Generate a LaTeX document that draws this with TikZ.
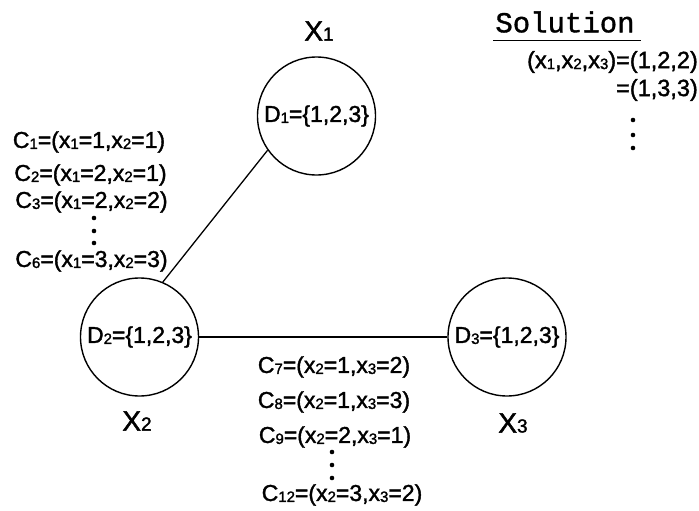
\documentclass[tikz,border=0pt]{standalone}
\usepackage{fontspec}
\setmainfont{Liberation Sans}[FakeBold=1.6]
\newfontfamily\solfont{Liberation Mono}[FakeBold=1.2]
\usetikzlibrary{calc}
\newcommand{\lo}[1]{\raisebox{-1pt}{\fontsize{15}{15}\selectfont#1}}
\newcommand{\vsub}[1]{{\fontsize{19}{19}\selectfont#1}}
\tikzset{var/.style={circle, draw, line width=1.4pt, minimum size=118pt, inner sep=0pt, font=\fontsize{23}{24}\selectfont}, edge/.style={line width=1.3pt}, cons/.style={inner sep=0pt, font=\fontsize{23}{24}\selectfont}, vlab/.style={inner sep=0pt, font=\fontsize{28}{30}\selectfont}, soltxt/.style={inner sep=0pt, anchor=east, font=\fontsize{23.5}{25}\selectfont}}

\begin{document}
\begin{tikzpicture}[x=1pt,y=-1pt]
\useasboundingbox (0,0) rectangle (699,511);
% variables
\node[var] (x1) at (316.5,116) {D\lo{1}=\{1,2,3\}};
\node[var] (x2) at (139.5,337) {D\lo{2}=\{1,2,3\}};
\node[var] (x3) at (507,337) {D\lo{3}=\{1,2,3\}};
\node[vlab] (n1) at (319,31) {X\vsub{1}};
\node[vlab] (n2) at (137,421) {X\vsub{2}};
\node[vlab] (n3) at (513,423) {X\vsub{3}};
\draw[edge] (x1.215) -- (x2.67);
\draw[edge] (x2) -- (x3);
% constraints X1-X2
\node[cons] (c1) at (89,142) {C\lo{1}=(x\lo{1}=1,x\lo{2}=1)};
\node[cons] (c2) at (90.5,175) {C\lo{2}=(x\lo{1}=2,x\lo{2}=1)};
\node[cons] (c3) at (91.5,202) {C\lo{3}=(x\lo{1}=2,x\lo{2}=2)};
\foreach \y in {218,231,243} \fill (94,\y) circle (2.3pt);
\node[cons] (c6) at (91.5,261) {C\lo{6}=(x\lo{1}=3,x\lo{2}=3)};
% constraints X2-X3
\node[cons] (c7) at (334,367) {C\lo{7}=(x\lo{2}=1,x\lo{3}=2)};
\node[cons] (c8) at (334,402) {C\lo{8}=(x\lo{2}=1,x\lo{3}=3)};
\node[cons] (c9) at (335,437) {C\lo{9}=(x\lo{2}=2,x\lo{3}=1)};
\foreach \y in {452,465,478} \fill (332,\y) circle (2.3pt);
\node[cons] (c12) at (342,495) {C\lo{12}=(x\lo{2}=3,x\lo{3}=2)};
% solution
\node[inner sep=0pt, font=\solfont\fontsize{29}{30}\selectfont] (sol) at (565,22) {Solution};
\draw[line width=1.4pt] ($(sol.base west)+(-2,8)$) -- ($(sol.base east)+(6,8)$);
\node[soltxt] (s1) at (698,62) {(x\lo{1},x\lo{2},x\lo{3})=(1,2,2)};
\node[soltxt] (s2) at (698,90) {=(1,3,3)};
\foreach \y in {120,135,148} \fill (633,\y) circle (2.3pt);
\end{tikzpicture}
\end{document}
